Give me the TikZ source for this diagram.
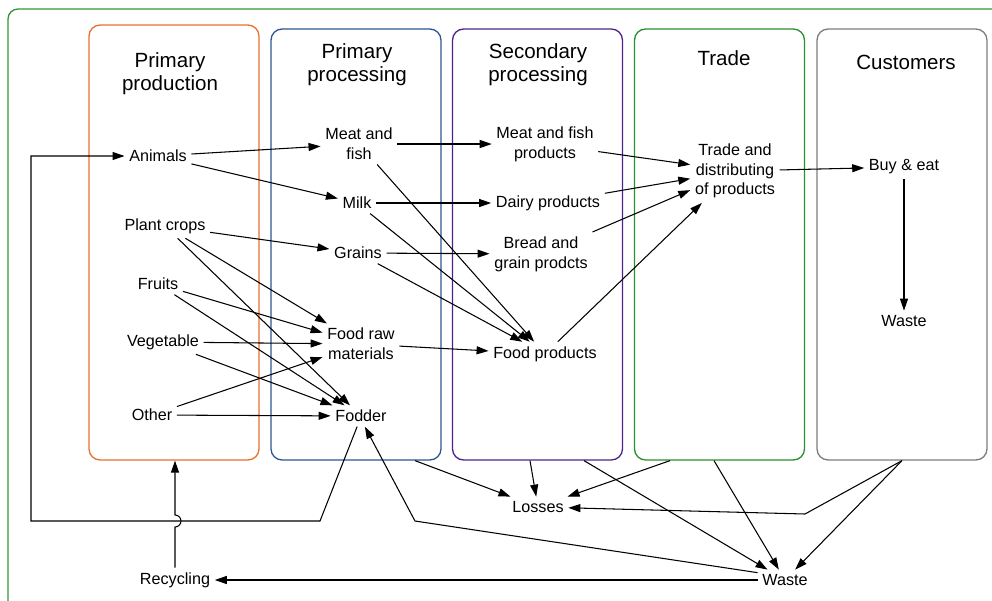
\documentclass[tikz,border=0pt]{standalone}
\usepackage{fontspec}
\setmainfont{Liberation Sans}
\usetikzlibrary{arrows.meta}

\definecolor{prodorange}{RGB}{232,112,44}
\definecolor{procblue}{RGB}{44,86,146}
\definecolor{secpurple}{RGB}{78,34,140}
\definecolor{tradegreen}{RGB}{40,144,44}
\definecolor{custgray}{RGB}{124,124,124}
\definecolor{framegreen}{RGB}{50,150,56}

\begin{document}
\begin{tikzpicture}[x=0.02cm, y=-0.02cm,
  every node/.style={font=\fontsize{9.2}{11.2}\selectfont, align=center, inner sep=2.5pt},
  col/.style={draw, line width=0.75pt, rounded corners=0.22cm, minimum width=3.4cm, minimum height=8.62cm, inner sep=0pt},
  head/.style={font=\fontsize{11.7}{13.2}\selectfont},
  arr/.style={-{Triangle[length=0.24cm,width=0.16cm]}, line width=0.6pt}]
\useasboundingbox (0,0) rectangle (992,600);
\clip (0,0) rectangle (992,600);
\draw[framegreen, line width=0.75pt, rounded corners=0.2cm] (8,9) rectangle (1012,620);

\node[col, draw=prodorange, minimum height=8.7cm] (prodbox) at (174,242.5) {};
\node[col, draw=procblue] (procbox) at (356,244.5) {};
\node[col, draw=secpurple] (secbox) at (537.5,244.5) {};
\node[col, draw=tradegreen] (tradebox) at (719.5,244.5) {};
\node[col, draw=custgray] (custbox) at (902,244.5) {};

\node[head] (prodtitle) at (170,73.5) {Primary\\production};
\node[head] (proctitle) at (357,65) {Primary\\processing};
\node[head] (sectitle) at (538,65) {Secondary\\processing};
\node[head] (tradetitle) at (724,58) {Trade};
\node[head] (custtitle) at (906,62) {Customers};

\node (animals) at (158,156) {Animals};
\node (crops) at (165,226) {Plant crops};
\node (fruits) at (158,284) {Fruits};
\node (veg) at (163,342) {Vegetable};
\node (other) at (152,415) {Other};
\node (meat) at (359,144) {Meat and\\fish};
\node (milk) at (357,203) {Milk};
\node (grains) at (358,253) {Grains};
\node (raw) at (361,344) {Food raw\\materials};
\node (fodder) at (361,416) {Fodder};
\node (meatprod) at (545,144) {Meat and fish\\products};
\node (dairy) at (548,203) {Dairy products};
\node (bread) at (541,254) {Bread and\\grain prodcts};
\node (foodprod) at (545,354) {Food products};
\node (trade) at (735,171) {Trade and\\distributing\\of products};
\node (buy) at (904,167) {Buy \& eat};
\node (custwaste) at (904,321) {Waste};
\node (losses) at (538,507) {Losses};
\node (waste) at (785,580) {Waste};
\node (recycling) at (175,580) {Recycling};
\coordinate (jump) at (175,527);

\draw[arr] (animals) -- (meat);
\draw[arr] (animals) -- (milk);
\draw[arr] (crops) -- (grains);
\draw[arr] (crops) -- (raw);
\draw[arr] (crops) -- (fodder);
\draw[arr] (fruits) -- (raw);
\draw[arr] (fruits) -- (fodder);
\draw[arr] (veg) -- (raw);
\draw[arr] (veg) -- (fodder);
\draw[arr] (other) -- (raw);
\draw[arr] (other) -- (fodder);
\draw[arr] (meat) -- (meatprod);
\draw[arr] (meat) -- (foodprod);
\draw[arr] (milk) -- (dairy);
\draw[arr] (milk) -- (foodprod);
\draw[arr] (grains) -- (bread);
\draw[arr] (grains) -- (foodprod);
\draw[arr] (raw) -- (foodprod);
\draw[arr] (meatprod) -- (trade);
\draw[arr] (dairy) -- (trade);
\draw[arr] (bread) -- (trade);
\draw[arr] (foodprod) -- (trade);
\draw[arr] (trade) -- (buy);
\draw[arr] (buy) -- (custwaste);

\draw[arr] (fodder.250) -- (320,521) -- (31,521) |- (animals);
\draw[arr] (recycling.north) -- (jump) arc(90:-90:6) -- (jump |- prodbox.south);
\draw[arr] (waste.165) -- (415,521) -- (fodder.290);
\draw[arr] (waste) -- (recycling);

\draw[arr] (415,0 |- procbox.south) -- (losses);
\draw[arr] (530,0 |- secbox.south) -- (losses);
\draw[arr] (584,0 |- secbox.south) -- (waste);
\draw[arr] (670,0 |- tradebox.south) -- (losses);
\draw[arr] (714,0 |- tradebox.south) -- (waste);
\draw[arr] (custbox.south) -- (805,514) -- (losses);
\draw[arr] (custbox.south) -- (waste);
\end{tikzpicture}
\end{document}
